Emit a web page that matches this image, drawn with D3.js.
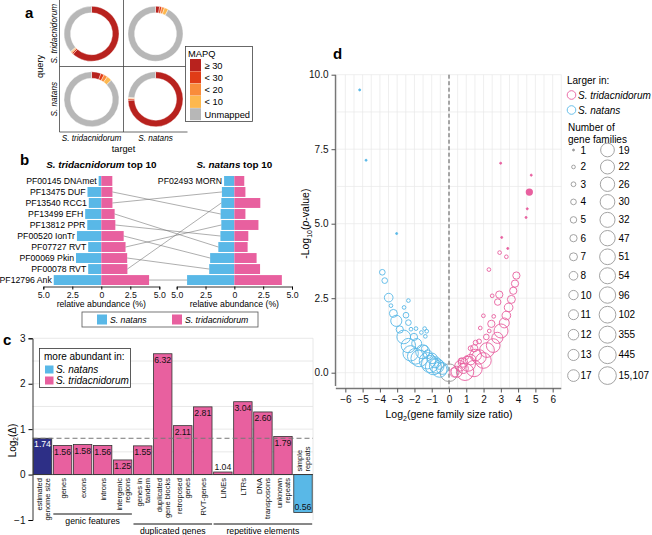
<!DOCTYPE html>
<html>
<head>
<meta charset="utf-8">
<script src="https://cdn.jsdelivr.net/npm/d3@7"></script>
<style>
  body { margin: 0; background: #fff; }
  svg { display: block; font-family: "Liberation Sans", Arial, sans-serif; }
  .panel { font-weight: bold; font-size: 15px; }
  .it { font-style: italic; }
</style>
</head>
<body>
<script>
// ---- a: share (%) of reads per MAPQ class, rows = query, cols = target
var mapqLevels = ["\u2265 30", "< 30", "< 20", "< 10", "Unmapped"];
var species = ["S. tridacnidorum", "S. natans"];
var mapqTriTri = [61.7, 1.0, 0.6, 0.5, 36.2];
var mapqTriNat = [2.4, 1.3, 1.6, 2.4, 92.3];
var mapqNatTri = [5.6, 2.0, 2.2, 3.0, 87.2];
var mapqNatNat = [74.4, 0.9, 0.4, 0.4, 23.9];

// ---- b: relative abundance (%) of pfam domains
var pfamIds = ["PF00145 DNAmet", "PF13475 DUF", "PF13540 RCC1", "PF13499 EFH", "PF13812 PPR",
  "PF00520 IonTr", "PF07727 RVT", "PF00069 Pkin", "PF00078 RVT", "PF12796 Ank", "PF02493 MORN"];
var natansAbund = [0.23, 1.19, 1.08, 1.39, 1.21, 2.10, 1.13, 2.18, 1.13, 4.10, 0.89];
var tridAbund   = [0.95, 0.96, 0.96, 1.15, 1.21, 1.93, 2.09, 2.23, 2.25, 4.12, 0.86];
var tridTop10 = ["PF00145 DNAmet", "PF13475 DUF", "PF13540 RCC1", "PF13499 EFH", "PF13812 PPR",
  "PF00520 IonTr", "PF07727 RVT", "PF00069 Pkin", "PF00078 RVT", "PF12796 Ank"];
var natansTop10 = ["PF02493 MORN", "PF13540 RCC1", "PF00078 RVT", "PF13475 DUF", "PF07727 RVT",
  "PF13812 PPR", "PF13499 EFH", "PF00520 IonTr", "PF00069 Pkin", "PF12796 Ank"];

// ---- c: ratio S. tridacnidorum / S. natans
var featureNames = ["estimated\ngenome size", "genes", "exons", "introns", "intergenic\nregions",
  "genes in\ntandem", "duplicated\ngene blocks", "retroposed\ngenes", "RVT-genes", "LINEs", "LTRs",
  "DNA\ntransposons", "unknown\nrepeats", "simple\nrepeats"];
var featureRatio = [1.74, 1.56, 1.58, 1.56, 1.25, 1.55, 6.32, 2.11, 2.81, 1.04, 3.04, 2.60, 1.79, 0.56];
var groupNames = ["genic features", "duplicated genes", "repetitive elements"];
var groupFirst = [1, 5, 9];
var groupLast = [4, 8, 13];

// ---- d: gene families
var familyLevels = [1, 2, 3, 4, 5, 6, 7, 8, 10, 11, 12, 13, 17, 19, 22, 26, 30, 32, 47, 51, 54, 96, 102, 355, 445, 15107];
var logRatio = [-5.17, -4.80, -3.03, -3.86, -3.72, -3.49, -3.36, -3.22, -3.05, -2.85, -2.62, -2.35, -2.22, -1.72,
  -1.10, -0.71, -0.39, -1.87, -2.03, -1.41, -1.23, -0.98, -0.79, -0.56, -2.35, -2.60, -2.49, -2.35, -2.20,
  -1.91, -1.60, -1.41, -1.29, -1.37, -1.52, -0.90, -0.55, -1.95, -1.25,
  2.99, 4.76, 4.53, 4.46, 3.05, 3.40, 2.93, 3.32, 2.31, 3.90, 3.82, 3.72, 3.61, 3.45, 2.91, 2.82, 2.50, 2.59,
  1.99, 3.32, 3.20, 3.01, 2.45, 1.81, 2.33, 2.16, 2.80, 2.56, 2.20, 1.99, 1.45, 1.74, 1.54, 1.74, 1.54, 1.46,
  1.25, 0.93, 1.02, 0.81, 0.64, 0.44, 0.31, 0.83, 1.25, 0.70, 1.10, 0];
var negLogP = [9.49, 7.13, 4.67, 3.37, 3.09, 2.52, 2.25, 1.99, 1.74, 1.45, 1.20, 0.91, 0.65, 0.48,
  0.29, 0.23, 0.14, 0.98, 1.20, 0.81, 0.62, 0.48, 0.35, 0.27, 2.42, 2.19, 1.93, 1.68, 1.46,
  1.48, 1.35, 1.48, 1.39, 1.22, 0.70, 0.20, 0.10, 0.55, 0.40,
  7.03, 6.63, 5.50, 5.21, 4.54, 4.17, 4.03, 3.89, 3.46, 3.26, 2.99, 2.75, 2.46, 2.19, 2.62, 2.37, 2.58, 1.89,
  1.91, 1.92, 1.67, 1.40, 1.64, 1.50, 1.40, 1.20, 1.17, 0.91, 0.76, 0.41, 0.14, 0.53, 0.59, 1.05, 1.01, 0.82,
  0.44, 0.03, 0.51, 0.34, 0.23, 0.03, 0.01, 0.14, 0.82, 0.40, 0.30, 0];
var nFamilies = [1, 1, 1, 4, 4, 8, 2, 7, 13, 6, 19, 26, 47, 102,
  355, 30, 17, 11, 6, 5, 8, 12, 13, 10, 2, 2, 4, 4, 2,
  2, 2, 2, 2, 2, 22, 54, 32, 51, 96,
  1, 1, 1, 1, 1, 1, 2, 2, 2, 6, 6, 6, 7, 8, 6, 5, 2, 2,
  2, 8, 11, 22, 6, 2, 2, 4, 13, 19, 30, 51, 96, 26, 17, 3, 3, 6,
  12, 445, 2, 10, 12, 13, 10, 11, 3, 4, 32, 15107];
var solidRatio = [4.65];
var solidNegLogP = [6.06];

var pink = "#e8609f", blue = "#59b8e7", navy = "#2d2f86";
var mapqColors = ["#b8221e", "#e03c17", "#f98c3b", "#fdb84f", "#b7b7b7"];

var svg = d3.select("body").append("svg").attr("width", 652).attr("height", 535);

// ================= panel a
svg.append("text").attr("class", "panel").attr("x", 25).attr("y", 18).text("a");

var gridX = 59.5, gridY = 1, cellW = 64, cellH = 65.5;
var shares = [[mapqTriTri, mapqTriNat], [mapqNatTri, mapqNatNat]];
var pie = d3.pie().sort(null).value(function(d) { return d; });
var ring = d3.arc().innerRadius(21).outerRadius(27.5);

shares.forEach(function(row, qi) {
  row.forEach(function(vals, ti) {
    var g = svg.append("g")
      .attr("transform", "translate(" + (gridX + cellW * ti + cellW / 2) + "," + (gridY + cellH * qi + cellH / 2) + ")");
    g.selectAll("path").data(pie(vals)).enter().append("path")
      .attr("d", ring)
      .attr("fill", function(d, i) { return mapqColors[i]; })
      .attr("stroke", "#fff").attr("stroke-width", 0.4);
  });
});

var aLines = svg.append("g").attr("stroke", "#444").attr("stroke-width", 0.8);
aLines.append("line").attr("x1", gridX).attr("x2", gridX).attr("y1", 0).attr("y2", gridY + 2 * cellH);
aLines.append("line").attr("x1", gridX + cellW).attr("x2", gridX + cellW).attr("y1", 0).attr("y2", gridY + 2 * cellH);
aLines.append("line").attr("x1", gridX).attr("x2", gridX + 2 * cellW).attr("y1", gridY + cellH).attr("y2", gridY + cellH);
aLines.append("line").attr("x1", gridX).attr("x2", gridX + 2 * cellW).attr("y1", gridY + 2 * cellH).attr("y2", gridY + 2 * cellH);

species.forEach(function(s, i) {
  svg.append("text").attr("class", "it").attr("font-size", 8.2).attr("text-anchor", "middle")
    .attr("x", gridX + cellW * i + cellW / 2).attr("y", 141).text(s);
  svg.append("text").attr("class", "it").attr("font-size", 8.2).attr("text-anchor", "middle")
    .attr("transform", "translate(57," + (gridY + cellH * i + cellH / 2) + ") rotate(-90)").text(s);
});
svg.append("text").attr("font-size", 9.2).attr("text-anchor", "middle").attr("x", gridX + cellW).attr("y", 151.5).text("target");
svg.append("text").attr("font-size", 9.2).attr("text-anchor", "middle")
  .attr("transform", "translate(43," + (gridY + cellH) + ") rotate(-90)").text("query");

var aLeg = svg.append("g").attr("transform", "translate(185.5,46.5)");
aLeg.append("rect").attr("width", 67).attr("height", 75).attr("fill", "#fff").attr("stroke", "#444").attr("stroke-width", 0.8);
aLeg.append("text").attr("x", 2.5).attr("y", 10).attr("font-size", 9.3).text("MAPQ");
mapqLevels.forEach(function(m, i) {
  aLeg.append("rect").attr("x", 4.5).attr("y", 12.5 + i * 12.3).attr("width", 11).attr("height", 12).attr("fill", mapqColors[i]);
  aLeg.append("text").attr("x", 19).attr("y", 22 + i * 12.3).attr("font-size", 9.3).text(m);
});

// ================= panel b
svg.append("text").attr("class", "panel").attr("x", 20).attr("y", 165).text("b");

var rowY = d3.scaleBand().domain(d3.range(10)).range([176, 285]).paddingInner(0.1);
var bLeft = d3.scaleLinear().domain([-5, 5]).range([43.3, 159.3]);
var bRight = d3.scaleLinear().domain([-5, 5]).range([176.7, 292]);

function top10(order, x, title, allLabels) {
  var g = svg.append("g");
  order.forEach(function(id, i) {
    var k = pfamIds.indexOf(id);
    g.append("rect").attr("x", x(-natansAbund[k])).attr("y", rowY(i))
      .attr("width", x(0) - x(-natansAbund[k])).attr("height", rowY.bandwidth()).attr("fill", blue);
    g.append("rect").attr("x", x(0)).attr("y", rowY(i))
      .attr("width", x(tridAbund[k]) - x(0)).attr("height", rowY.bandwidth()).attr("fill", pink);
    if (allLabels || i === 0) {
      g.append("text").attr("x", x(-natansAbund[k]) - 2).attr("y", rowY(i) + rowY.bandwidth() / 2 + 3.2)
        .attr("text-anchor", "end").attr("font-size", 8.7).text(id);
    }
  });
  var ax = g.append("g").attr("transform", "translate(0,286.5)")
    .call(d3.axisBottom(x).tickValues([-5, -2.5, 0, 2.5, 5]).tickSize(3)
      .tickFormat(function(d) { return d === 0 ? "0" : d3.format(".1f")(Math.abs(d)); }));
  ax.selectAll("text").attr("font-size", 8.7).attr("fill", "#111").attr("dy", "0.6em");
  ax.select(".domain").attr("stroke", "#333");
  g.append("text").attr("x", x(0)).attr("y", 306.5).attr("text-anchor", "middle").attr("font-size", 8.7)
    .text("relative abundance (%)");
  var t = g.append("text").attr("x", x(0)).attr("y", 168).attr("text-anchor", "middle")
    .attr("font-size", 9.9).attr("font-weight", "bold");
  t.append("tspan").attr("class", "it").text(title);
  t.append("tspan").text(" top 10");
}
top10(tridTop10, bLeft, "S. tridacnidorum", true);
top10(natansTop10, bRight, "S. natans", false);

tridTop10.forEach(function(id, i) {
  var j = natansTop10.indexOf(id);
  if (j < 0) return;
  var k = pfamIds.indexOf(id);
  svg.append("line")
    .attr("x1", bLeft(tridAbund[k])).attr("y1", rowY(i) + rowY.bandwidth() / 2)
    .attr("x2", bRight(-natansAbund[k])).attr("y2", rowY(j) + rowY.bandwidth() / 2)
    .attr("stroke", "#777").attr("stroke-width", 0.6);
});

var bLeg = svg.append("g").attr("transform", "translate(82,312)");
bLeg.append("rect").attr("width", 176).attr("height", 15).attr("fill", "#fff").attr("stroke", "#555").attr("stroke-width", 0.8);
[["S. natans", blue, 15], ["S. tridacnidorum", pink, 90]].forEach(function(e) {
  bLeg.append("rect").attr("x", e[2]).attr("y", 2.5).attr("width", 10).attr("height", 10).attr("fill", e[1]);
  bLeg.append("text").attr("class", "it").attr("x", e[2] + 13).attr("y", 10.8).attr("font-size", 8.7).text(e[0]);
});

// ================= panel c
svg.append("text").attr("class", "panel").attr("x", 3).attr("y", 345).text("c");

var cx = d3.scaleBand().domain(d3.range(featureNames.length)).range([32.5, 313]).paddingInner(0.08).paddingOuter(0.04);
var cy = d3.scaleLinear().domain([-1, 3]).range([520, 338.3]);

var cGrid = svg.append("g").attr("stroke", "#e2e2e2").attr("stroke-width", 0.8);
d3.range(0.5, 3.01, 0.5).forEach(function(v) {
  cGrid.append("line").attr("x1", 32.5).attr("x2", 313).attr("y1", cy(v)).attr("y2", cy(v));
});
cGrid.append("line").attr("x1", 313).attr("x2", 313).attr("y1", cy(3)).attr("y2", cy(-1));

svg.append("g").selectAll("rect").data(featureRatio).enter().append("rect")
  .attr("x", function(d, i) { return cx(i); })
  .attr("width", cx.bandwidth())
  .attr("y", function(d) { return cy(Math.max(0, Math.log2(d))); })
  .attr("height", function(d) { return Math.abs(cy(Math.log2(d)) - cy(0)); })
  .attr("fill", function(d, i) { return i === 0 ? navy : (d < 1 ? blue : pink); })
  .attr("stroke", "#333").attr("stroke-width", 0.8);

svg.append("line").attr("x1", 32.5).attr("x2", 313)
  .attr("y1", cy(Math.log2(featureRatio[0]))).attr("y2", cy(Math.log2(featureRatio[0])))
  .attr("stroke", "#777").attr("stroke-width", 1).attr("stroke-dasharray", "5,3");

svg.append("g").selectAll("text").data(featureRatio).enter().append("text")
  .attr("x", function(d, i) { return cx(i) + cx.bandwidth() / 2; })
  .attr("y", function(d) {
    var l = Math.log2(d);
    if (l < 0) return cy(l) - 3;
    if (cy(0) - cy(l) < 12) return cy(l) - 2;
    return cy(l) + 9.2;
  })
  .attr("text-anchor", "middle").attr("font-size", 8.7)
  .attr("fill", function(d, i) { return i === 0 ? "#fff" : "#111"; })
  .text(function(d) { return d3.format(".2f")(d); });

var cAxis = svg.append("g").attr("transform", "translate(32.5,0)")
  .call(d3.axisLeft(cy).tickValues([-1, 0, 1, 2, 3]).tickSize(4).tickFormat(d3.format("d")));
cAxis.selectAll("text").attr("font-size", 10).attr("fill", "#111");
cAxis.select(".domain").attr("stroke", "#333");
svg.append("line").attr("x1", 32.5).attr("x2", 313).attr("y1", cy(0)).attr("y2", cy(0)).attr("stroke", "#333").attr("stroke-width", 0.8);

var cyLab = svg.append("text").attr("font-size", 10).attr("text-anchor", "middle")
  .attr("transform", "translate(16," + cy(0.75) + ") rotate(-90)");
cyLab.append("tspan").text("Log");
cyLab.append("tspan").attr("font-size", 6.5).attr("dy", 2).text("2");
cyLab.append("tspan").attr("dy", -2).text("(\u0394)");

featureNames.forEach(function(name, i) {
  var up = featureRatio[i] < 1;
  var lines = name.split("\n");
  var x0 = cx(i) + cx.bandwidth() / 2 - (lines.length - 1) * 4 + 3;
  lines.forEach(function(s, j) {
    svg.append("text").attr("font-size", 7.5).attr("fill", "#111")
      .attr("text-anchor", up ? "start" : "end")
      .attr("transform", "translate(" + (x0 + j * 8.2) + "," + (up ? cy(0) - 3 : cy(0) + 3.5) + ") rotate(-90)")
      .text(s);
  });
});

var groupLineY = [514, 524, 524];
groupNames.forEach(function(n, i) {
  var x1 = cx(groupFirst[i]), x2 = cx(groupLast[i]) + cx.bandwidth();
  svg.append("line").attr("x1", x1).attr("x2", x2).attr("y1", groupLineY[i]).attr("y2", groupLineY[i])
    .attr("stroke", "#111").attr("stroke-width", 1);
  svg.append("text").attr("x", (x1 + x2) / 2).attr("y", groupLineY[i] + 9.5).attr("text-anchor", "middle")
    .attr("font-size", 8.7).text(n);
});

var cLeg = svg.append("g").attr("transform", "translate(39.5,348.5)");
cLeg.append("rect").attr("width", 91).attr("height", 39).attr("fill", "#fff").attr("stroke", "#333").attr("stroke-width", 0.8);
cLeg.append("text").attr("x", 4.5).attr("y", 11).attr("font-size", 10).text("more abundant in:");
[["S. natans", blue], ["S. tridacnidorum", pink]].forEach(function(e, i) {
  cLeg.append("rect").attr("x", 5.5).attr("y", 17 + i * 11).attr("width", 8.5).attr("height", 8).attr("fill", e[1]);
  cLeg.append("text").attr("class", "it").attr("x", 16.5).attr("y", 24.5 + i * 11).attr("font-size", 10).text(e[0]);
});

// ================= panel d
svg.append("text").attr("class", "panel").attr("x", 333).attr("y", 59).text("d");

var dx = d3.scaleLinear().domain([-6.5, 6.5]).range([336.7, 561.3]);
var dy = d3.scaleLinear().domain([-0.5, 10]).range([387.6, 74.7]);
var rSmall = d3.scalePow().exponent(0.7).domain([0, 12]).range([1, 5.85]);
var rLarge = d3.scaleLinear().domain([13, 25]).range([6.85, 8.85]);
function radius(n) {
  var i = familyLevels.indexOf(n);
  return i <= 12 ? rSmall(i) : rLarge(i);
}

var dGrid = svg.append("g").attr("stroke", "#e8e8e8").attr("stroke-width", 0.7);
d3.range(-6.5, 6.51, 0.5).forEach(function(v) {
  dGrid.append("line").attr("x1", dx(v)).attr("x2", dx(v)).attr("y1", dy(10)).attr("y2", dy(-0.5));
});
d3.range(0, 10.01, 1.25).forEach(function(v) {
  dGrid.append("line").attr("x1", dx(-6.5)).attr("x2", dx(6.5)).attr("y1", dy(v)).attr("y2", dy(v));
});

svg.append("line").attr("x1", dx(0)).attr("x2", dx(0)).attr("y1", dy(10)).attr("y2", dy(-0.5))
  .attr("stroke", "#555").attr("stroke-width", 1).attr("stroke-dasharray", "4,2.5");

var pts = d3.range(logRatio.length).sort(function(a, b) { return nFamilies[b] - nFamilies[a]; });
function ptColor(x) { return x < 0 ? blue : (x > 0 ? pink : "#999"); }
svg.append("g").selectAll("circle").data(pts).enter().append("circle")
  .attr("cx", function(i) { return dx(logRatio[i]); })
  .attr("cy", function(i) { return dy(negLogP[i]); })
  .attr("r", function(i) { return radius(nFamilies[i]); })
  .attr("fill", function(i) { return nFamilies[i] === 1 ? ptColor(logRatio[i]) : "none"; })
  .attr("stroke", function(i) { return ptColor(logRatio[i]); })
  .attr("stroke-width", 0.9);
svg.append("g").selectAll("circle").data(solidRatio).enter().append("circle")
  .attr("cx", function(d) { return dx(d); })
  .attr("cy", function(d, i) { return dy(solidNegLogP[i]); })
  .attr("r", radius(6)).attr("fill", pink);

var dyAxis = svg.append("g").attr("transform", "translate(335.5,0)")
  .call(d3.axisLeft(dy).tickValues([0, 2.5, 5, 7.5, 10]).tickSize(4).tickFormat(d3.format(".1f")));
dyAxis.select(".domain").attr("d", "M0," + dy(10) + "V" + dy(-0.45)).attr("stroke", "#777").attr("stroke-width", 1.4);
dyAxis.selectAll(".tick line").attr("stroke", "#555");
dyAxis.selectAll("text").attr("font-size", 10).attr("fill", "#111");

var dxAxis = svg.append("g").attr("transform", "translate(0,388.5)")
  .call(d3.axisBottom(dx).tickValues(d3.range(-6, 6.1, 1)).tickSize(4).tickFormat(d3.format("d")));
dxAxis.select(".domain").attr("d", "M" + dx(-6.55) + ",0H" + dx(6.5)).attr("stroke", "#777").attr("stroke-width", 1.4);
dxAxis.selectAll(".tick line").attr("stroke", "#555");
dxAxis.selectAll("text").attr("font-size", 10).attr("fill", "#111");

var dxLab = svg.append("text").attr("x", dx(0)).attr("y", 418).attr("text-anchor", "middle").attr("font-size", 10.5);
dxLab.append("tspan").text("Log");
dxLab.append("tspan").attr("font-size", 7).attr("dy", 2.5).text("2");
dxLab.append("tspan").attr("dy", -2.5).text("(gene family size ratio)");

var dyLab = svg.append("text").attr("font-size", 10.5).attr("text-anchor", "middle")
  .attr("transform", "translate(309," + dy(5) + ") rotate(-90)");
dyLab.append("tspan").text("-Log");
dyLab.append("tspan").attr("font-size", 7).attr("dy", 2.5).text("10");
dyLab.append("tspan").attr("dy", -2.5).text("(");
dyLab.append("tspan").attr("class", "it").text("p");
dyLab.append("tspan").text("-value)");

// legend d
var dLeg = svg.append("g");
dLeg.append("text").attr("x", 567).attr("y", 84).attr("font-size", 10).text("Larger in:");
[["S. tridacnidorum", pink], ["S. natans", blue]].forEach(function(e, i) {
  dLeg.append("circle").attr("cx", 571.5).attr("cy", 95 + i * 15).attr("r", 4.3)
    .attr("fill", "none").attr("stroke", e[1]).attr("stroke-width", 0.9);
  dLeg.append("text").attr("class", "it").attr("x", 578).attr("y", 98.5 + i * 15).attr("font-size", 10).text(e[0]);
});
dLeg.append("text").attr("x", 568).attr("y", 130.5).attr("font-size", 10).text("Number of");
dLeg.append("text").attr("x", 568).attr("y", 142.5).attr("font-size", 10).text("gene families");

var half = 13, yRow = 150;
for (var i = 0; i < half; i++) {
  [0, 1].forEach(function(c) {
    var n = familyLevels[i + c * half];
    var cxp = c === 0 ? 573.5 : 607.5;
    dLeg.append("circle").attr("cx", cxp).attr("cy", yRow).attr("r", radius(n))
      .attr("fill", n === 1 ? "#999" : "none").attr("stroke", "#999")
      .attr("stroke-width", 0.9);
    dLeg.append("text").attr("x", c === 0 ? 580.5 : 618.5).attr("y", yRow + 3.5).attr("font-size", 10)
      .text(d3.format(",")(n));
  });
  if (i < half - 1) yRow += radius(familyLevels[i + half]) + radius(familyLevels[i + half + 1]) + 3.1;
}
</script>
</body>
</html>
